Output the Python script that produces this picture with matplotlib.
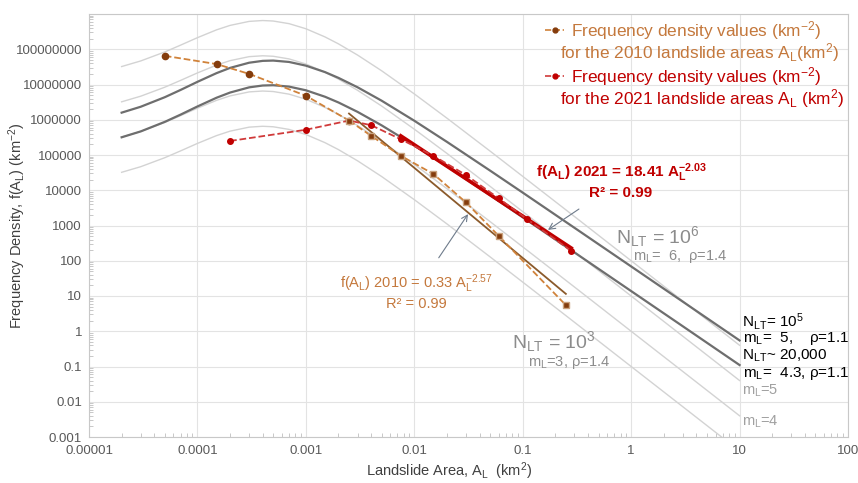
import numpy as np
import matplotlib
matplotlib.use("Agg")
import matplotlib.pyplot as plt
from matplotlib.lines import Line2D
from matplotlib.ticker import LogLocator, FuncFormatter, NullFormatter

plt.rcParams['font.family'] = ['Liberation Sans', 'DejaVu Sans']
plt.rcParams['mathtext.fontset'] = 'custom'
plt.rcParams['mathtext.rm'] = 'Liberation Sans'
plt.rcParams['mathtext.it'] = 'Liberation Sans:italic'
plt.rcParams['mathtext.bf'] = 'Liberation Sans:bold'

area_2010 = [5e-5, 1.5e-4, 3e-4, 1e-3, 2.5e-3, 4e-3, 7.5e-3, 0.015, 0.03, 0.06, 0.25]
dens_2010 = [6.5e7, 3.8e7, 2.0e7, 4.8e6, 9.5e5, 3.5e5, 9.5e4, 2.9e4, 4.5e3, 510, 5.5]

area_2021 = [2e-4, 1e-3, 2.5e-3, 4e-3, 7.5e-3, 0.015, 0.03, 0.06, 0.11, 0.28]
dens_2021 = [2.5e5, 5.2e5, 9.5e5, 7.0e5, 2.8e5, 9.5e4, 2.7e4, 5.9e3, 1.5e3, 190]

# power law fit lines (end points)
fit_area_2010 = [2.5e-3, 0.25]
fit_dens_2010 = [1.5e6, 11.5]
fit_area_2021 = [7.5e-3, 0.28]
fit_dens_2021 = [3.5e5, 230]

#*********** reference curves ***********
curve_area = [2e-5, 3e-5, 5e-5, 7e-5, 1e-4, 1.5e-4, 2e-4, 3e-4, 4e-4, 5e-4, 7e-4,
              1e-3, 1.5e-3, 2e-3, 3e-3, 5e-3, 1e-2, 2e-2, 5e-2, 0.1, 0.3, 1, 3, 10]
curve_ml6 = [3.23e7, 4.66e7, 8.38e7, 1.31e8, 2.13e8, 3.55e8, 4.75e8, 6.17e8, 6.53e8, 6.32e8, 5.32e8,
             3.82e8, 2.24e8, 1.42e8, 6.83e7, 2.45e7, 5.41e6, 1.11e6, 1.29e5, 2.48e4, 1.80e3, 100, 7.2, 0.40]
curve_ml5 = [3.23e6, 4.66e6, 8.38e6, 1.31e7, 2.13e7, 3.55e7, 4.75e7, 6.17e7, 6.53e7, 6.32e7, 5.32e7,
             3.82e7, 2.24e7, 1.42e7, 6.83e6, 2.45e6, 5.41e5, 1.11e5, 1.29e4, 2.48e3, 180, 10, 0.72, 0.040]
curve_ml4 = [3.23e5, 4.66e5, 8.38e5, 1.31e6, 2.13e6, 3.55e6, 4.75e6, 6.17e6, 6.53e6, 6.32e6, 5.32e6,
             3.82e6, 2.24e6, 1.42e6, 6.83e5, 2.45e5, 5.41e4, 1.11e4, 1.29e3, 248, 18, 1.0, 0.072, 0.0040]
curve_ml3 = [3.23e4, 4.66e4, 8.38e4, 1.31e5, 2.13e5, 3.55e5, 4.75e5, 6.17e5, 6.53e5, 6.32e5, 5.32e5,
             3.82e5, 2.24e5, 1.42e5, 6.83e4, 2.45e4, 5.41e3, 1.11e3, 129, 24.8, 1.8, 0.10, 0.0072, 0.00040]
curve_n1e5 = [1.59e6, 2.34e6, 4.36e6, 7.02e6, 1.19e7, 2.10e7, 2.96e7, 4.15e7, 4.68e7, 4.77e7, 4.36e7,
              3.43e7, 2.25e7, 1.54e7, 8.33e6, 3.47e6, 9.38e5, 2.36e5, 3.61e4, 8.57e3, 861, 69.0, 6.88, 0.549]
curve_n2e4 = [3.18e5, 4.67e5, 8.71e5, 1.40e6, 2.38e6, 4.21e6, 5.91e6, 8.30e6, 9.36e6, 9.54e6, 8.71e6,
              6.86e6, 4.50e6, 3.09e6, 1.67e6, 6.93e5, 1.88e5, 4.73e4, 7.23e3, 1.71e3, 172, 13.8, 1.38, 0.110]

# colours
light_grey = '#D3D3D3'
dark_grey = '#6E6E6E'
brown = '#843C0C'
orange_line = '#D0823A'
orange_txt = '#C4783C'
red = '#C00000'
red_line = '#D03A3A'


def plain_number(v, pos=None):
    # 1e-05 -> "0.00001", 1e8 -> "100000000"
    return np.format_float_positional(float(f'{v:.0e}'), trim='-')


fig = plt.figure(figsize=(8.58, 4.83), dpi=100)
ax = fig.add_axes([89/858, 1-437/483, 759/858, 423/483])

for c in [curve_ml6, curve_ml5, curve_ml4, curve_ml3]:
    ax.plot(curve_area, c, color=light_grey, lw=1.0, zorder=2)
for c in [curve_n1e5, curve_n2e4]:
    ax.plot(curve_area, c, color=dark_grey, lw=1.6, zorder=3)

# fit lines
ax.plot(fit_area_2010, fit_dens_2010, color='#8B5A2B', lw=1.3, zorder=4)
ax.plot(fit_area_2021, fit_dens_2021, color=red, lw=2.6, zorder=4)

# observed series
ax.plot(area_2021, dens_2021, color=red_line, ls='--', lw=1.3, marker='o', ms=4,
        mfc=red, mec=red, zorder=5)
ax.plot(area_2010[:5], dens_2010[:5], color=orange_line, ls='--', lw=1.3, marker='o', ms=4.5,
        mfc=brown, mec=brown, zorder=6)
ax.plot(area_2010[4:], dens_2010[4:], color=orange_line, ls='--', lw=1.3, marker='s', ms=4,
        mfc=brown, mec='#C9A27E', zorder=6)

ax.set_xscale('log')
ax.set_yscale('log')
ax.set_xlim(1e-5, 100)
ax.set_ylim(1e-3, 1e9)

ax.xaxis.set_major_locator(LogLocator(base=10, numticks=20))
ax.yaxis.set_major_locator(LogLocator(base=10, numticks=20))
ax.xaxis.set_major_formatter(FuncFormatter(plain_number))
ax.yaxis.set_major_formatter(FuncFormatter(lambda v, p: '' if v > 2e8 else plain_number(v)))
ax.xaxis.set_minor_locator(LogLocator(base=10, subs=np.arange(2, 10), numticks=20))
ax.yaxis.set_minor_locator(LogLocator(base=10, subs=np.arange(2, 10), numticks=20))
ax.xaxis.set_minor_formatter(NullFormatter())
ax.yaxis.set_minor_formatter(NullFormatter())
ax.tick_params(which='major', length=0, labelcolor='#595959', pad=5)
ax.tick_params(axis='y', which='major', labelsize=9.5)
ax.tick_params(axis='x', which='major', labelsize=9.5, pad=6)
ax.tick_params(which='minor', direction='in', length=3, color='#BFBFBF', width=0.6)
ax.grid(True, which='major', color='#E3E3E3', lw=0.8)
ax.set_axisbelow(True)
for s in ax.spines.values():
    s.set_color('#C8C8C8')
    s.set_linewidth(0.8)

ax.set_xlabel(r'Landslide Area, A$\mathregular{_L}$  (km$\mathregular{^2}$)', fontsize=10.5, color='#404040')
ax.set_ylabel(r'Frequency Density, f(A$\mathregular{_L}$) (km$\mathregular{^{-2}}$)', fontsize=10.5, color='#404040')
ax.xaxis.set_label_coords(0.474, -0.056)
ax.yaxis.set_label_coords(-0.081, 0.5)

# legend
handles = [Line2D([0], [0], color=orange_line, ls='--', lw=1.2, marker='o', ms=3.5, mfc=brown, mec=brown),
           Line2D([0], [0], color=red_line, ls='--', lw=1.2, marker='o', ms=3.5, mfc=red, mec=red)]
leg = ax.legend(handles, [r'Frequency density values (km$\mathregular{^{-2}}$)',
                          r'Frequency density values (km$\mathregular{^{-2}}$)'],
                loc='upper left', bbox_to_anchor=(0.601, 0.988), frameon=False,
                handlelength=1.1, handletextpad=0.4, labelspacing=1.35,
                borderaxespad=0, borderpad=0, prop={'size': 12.4})
for t, col in zip(leg.get_texts(), [orange_txt, red]):
    t.set_color(col)
ax.text(0.621, 0.910, r'for the 2010 landslide areas A$\mathregular{_L}$(km$\mathregular{^2}$)',
        transform=ax.transAxes, fontsize=12.4, color=orange_txt, va='center')
ax.text(0.621, 0.801, r'for the 2021 landslide areas A$\mathregular{_L}$ (km$\mathregular{^2}$)',
        transform=ax.transAxes, fontsize=12.4, color=red, va='center')

# fit labels
ax.annotate('f(A$\\mathregular{_L}$) 2021 = 18.41 A$\\mathregular{_L^{-2.03}}$\nR² = 0.99',
            xy=(0.171, 750), xytext=(0.701, 0.606), textcoords='axes fraction',
            ha='center', va='center', fontsize=11, fontweight='bold', color=red,
            arrowprops=dict(arrowstyle='->', color='#6E7B8B', lw=0.8, shrinkA=8, shrinkB=0))
ax.annotate('f(A$\\mathregular{_L}$) 2010 = 0.33 A$\\mathregular{_L^{-2.57}}$\nR² = 0.99',
            xy=(0.0313, 2100), xytext=(0.431, 0.344), textcoords='axes fraction',
            ha='center', va='center', fontsize=10.5, color=orange_txt,
            arrowprops=dict(arrowstyle='->', color='#6E7B8B', lw=0.8, shrinkA=10, shrinkB=0))

# curve labels
g = '#8C8C8C'
ax.text(0.694, 0.475, r'N$\mathregular{_{LT}}$ = 10$\mathregular{^6}$', transform=ax.transAxes,
        fontsize=14, color=g, va='center')
ax.text(0.717, 0.426, r'm$\mathregular{_L}$=  6,  ρ=1.4', transform=ax.transAxes,
        fontsize=10.5, color=g, va='center')
ax.text(0.557, 0.225, r'N$\mathregular{_{LT}}$ = 10$\mathregular{^3}$', transform=ax.transAxes,
        fontsize=14, color=g, va='center')
ax.text(0.578, 0.175, r'm$\mathregular{_L}$=3, ρ=1.4', transform=ax.transAxes,
        fontsize=10.5, color=g, va='center')

ax.text(0.860, 0.274, r'N$\mathregular{_{LT}}$= 10$\mathregular{^5}$', transform=ax.transAxes,
        fontsize=11, color='black', va='center')
ax.text(0.862, 0.232, r'm$\mathregular{_L}$=  5,    ρ=1.1', transform=ax.transAxes,
        fontsize=11, color='black', va='center')
ax.text(0.860, 0.191, r'N$\mathregular{_{LT}}$~ 20,000', transform=ax.transAxes,
        fontsize=11, color='black', va='center')
ax.text(0.862, 0.149, r'm$\mathregular{_L}$=  4.3, ρ=1.1', transform=ax.transAxes,
        fontsize=11, color='black', va='center')
ax.text(0.860, 0.110, r'm$\mathregular{_L}$=5', transform=ax.transAxes,
        fontsize=10.5, color='#A0A0A0', va='center')
ax.text(0.860, 0.035, r'm$\mathregular{_L}$=4', transform=ax.transAxes,
        fontsize=10.5, color='#A0A0A0', va='center')

fig.savefig('out.png', dpi=100)
